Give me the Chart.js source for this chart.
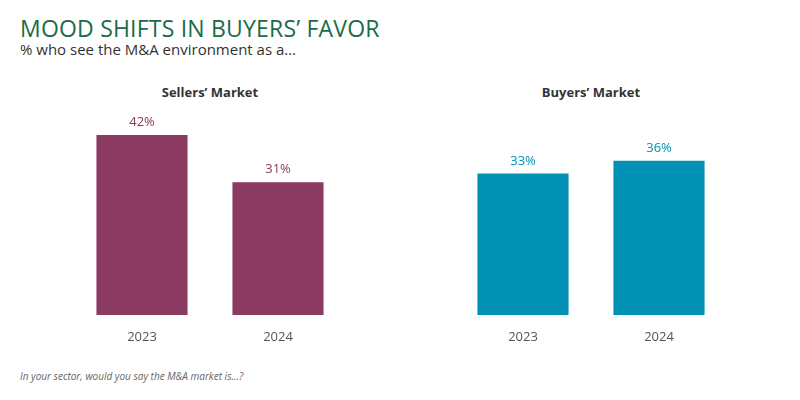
<!DOCTYPE html>
<html lang="en">
<head>
<meta charset="UTF-8">
<title>Mood shifts in buyers' favor</title>
<script src="https://cdn.jsdelivr.net/npm/chart.js"></script>
<style>
  body { margin: 0; width: 800px; height: 400px; background: #fff; font-family: "Open Sans", sans-serif; position: relative; overflow: hidden; }
  .title { position: absolute; left: 20px; top: 12px; font-size: 23px; color: #1c6b48; letter-spacing: 0.2px; }
  .sub { position: absolute; left: 20px; top: 39px; font-size: 15px; color: #333; }
  .head { position: absolute; top: 83px; font-size: 13px; font-weight: bold; color: #333; text-align: center; }
  .note { position: absolute; left: 20px; top: 369px; font-size: 10px; font-style: italic; color: #666; }
  .box { position: absolute; top: 105px; height: 240px; }
</style>
</head>
<body>
<div class="title">MOOD SHIFTS IN BUYERS’ FAVOR</div>
<div class="sub">% who see the M&amp;A environment as a…</div>
<div class="head" style="left:74px;width:272px">Sellers’ Market</div>
<div class="head" style="left:455px;width:272px">Buyers’ Market</div>
<div class="box" style="left:74px;width:272px"><canvas id="sellers"></canvas></div>
<div class="box" style="left:455px;width:272px"><canvas id="buyers"></canvas></div>
<div class="note">In your sector, would you say the M&amp;A market is…?</div>
<script>
const years = ['2023', '2024'];
const sellersValues = [42, 31];
const buyersValues = [33, 36];

const valueLabels = {
  id: 'valueLabels',
  afterDatasetsDraw(chart) {
    const ctx = chart.ctx;
    const ds = chart.data.datasets[0];
    chart.getDatasetMeta(0).data.forEach((bar, i) => {
      ctx.save();
      ctx.fillStyle = ds.backgroundColor;
      ctx.font = '13px "Open Sans"';
      ctx.textAlign = 'center';
      ctx.textBaseline = 'bottom';
      ctx.fillText(ds.data[i] + '%', bar.x, bar.y - 6);
      ctx.restore();
    });
  }
};

function drawChart(id, values, color) {
  new Chart(document.getElementById(id), {
    type: 'bar',
    data: { labels: years, datasets: [{ data: values, backgroundColor: color, barPercentage: 0.67, categoryPercentage: 1 }] },
    options: {
      responsive: true, maintainAspectRatio: false, animation: false,
      layout: { padding: 0 },
      plugins: { legend: { display: false }, tooltip: { enabled: false } },
      scales: {
        x: { grid: { display: false }, border: { display: false },
             ticks: { color: '#555', font: { size: 13, family: 'Open Sans' }, padding: 6 },
             afterFit(s) { s.height = 30; } },
        y: { display: false, min: 0, max: 49 }
      }
    },
    plugins: [valueLabels]
  });
}

drawChart('sellers', sellersValues, '#8b3a62');
drawChart('buyers', buyersValues, '#0091b4');
</script>
</body>
</html>
